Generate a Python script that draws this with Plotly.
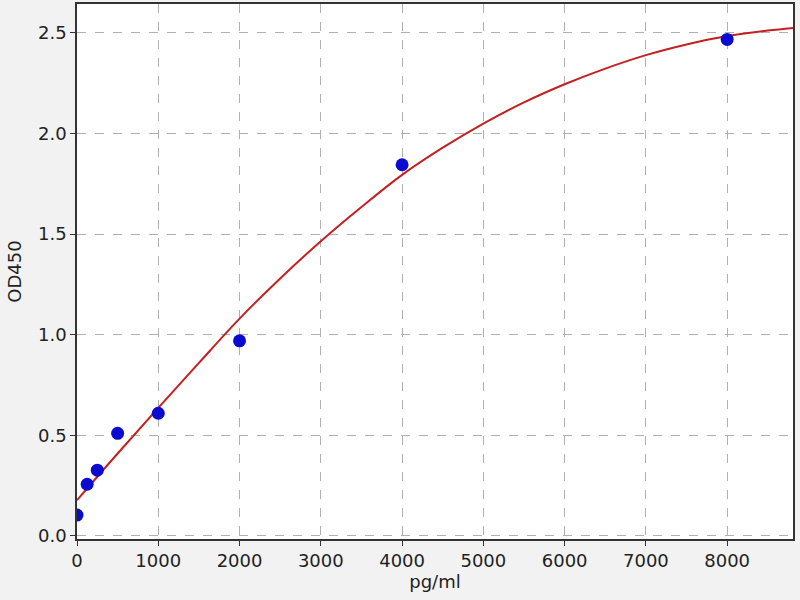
import plotly.graph_objects as go

# standard points
conc = [0, 125, 250, 500, 1000, 2000, 4000, 8000]
od450 = [0.104, 0.257, 0.327, 0.510, 0.610, 0.970, 1.845, 2.468]

# fitted curve
fit_x = [0, 500, 1000, 1500, 2000, 2500, 3000, 3500, 4000, 4500, 5000,
         5500, 6000, 6500, 7000, 7500, 8000, 8500, 8810]
fit_y = [0.178, 0.410, 0.637, 0.860, 1.080, 1.280, 1.465, 1.635, 1.795, 1.930, 2.050,
         2.155, 2.245, 2.323, 2.390, 2.443, 2.485, 2.512, 2.525]

font = dict(family="DejaVu Sans", size=18, color="#222222")

fig = go.Figure()
fig.add_trace(go.Scatter(x=fit_x, y=fit_y, mode="lines", line=dict(color="#c42020", width=2, shape="spline"),
                         showlegend=False))
fig.add_trace(go.Scatter(x=conc, y=od450, mode="markers", marker=dict(color="#0a0ad0", size=13),
                         showlegend=False))

axis_common = dict(showline=True, linecolor="#333333", linewidth=1.5, mirror=True,
                   ticks="outside", ticklen=5, tickcolor="#333333",
                   showgrid=True, gridcolor="#b0b0b0", griddash="dash", gridwidth=1,
                   zeroline=False, tickfont=font)

fig.update_xaxes(range=[0, 8810], dtick=1000, title=dict(text="pg/ml", font=font, standoff=2), **axis_common)
fig.update_yaxes(range=[-0.015, 2.644], dtick=0.5, tickformat=".1f",
                 title=dict(text="OD450", font=font, standoff=12), **axis_common)

fig.update_layout(width=800, height=600, margin=dict(l=77, r=7, t=2, b=61),
                  paper_bgcolor="#f2f2f2", plot_bgcolor="white", font=font)

# drop the browser's default page margin so the figure sits at 0,0
fig.write_html("out.html", config={"displayModeBar": False},
               post_script="document.body.style.margin='0px';")
